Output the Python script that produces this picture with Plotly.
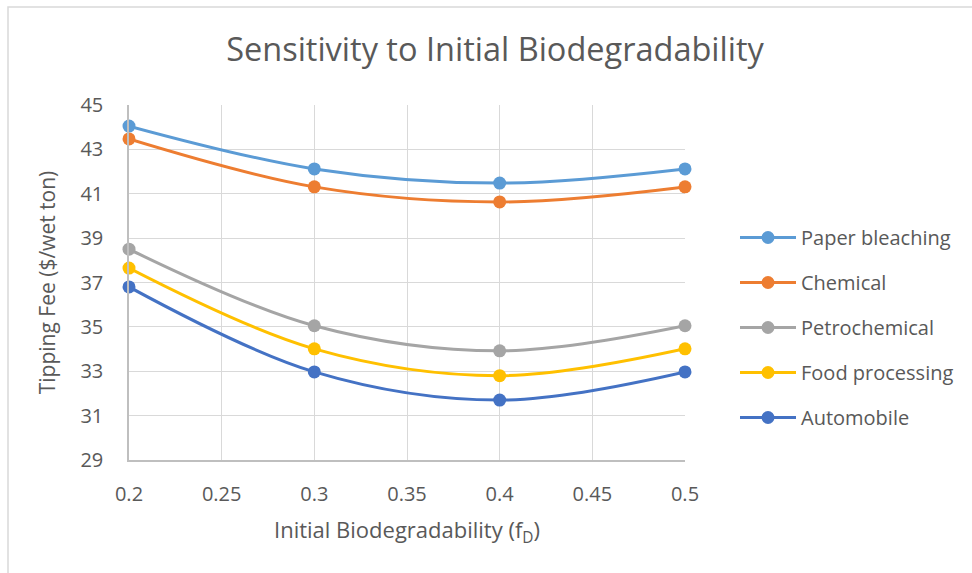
import plotly.graph_objects as go

x_vals = [0.2, 0.3, 0.4, 0.5]
paper_bleaching = [44.05, 42.12, 41.48, 42.12]
chemical = [43.47, 41.31, 40.63, 41.31]
petrochemical = [38.5, 35.05, 33.92, 35.05]
food_processing = [37.65, 34.01, 32.8, 34.01]
automobile = [36.8, 32.97, 31.7, 32.97]

series_names = ["Paper bleaching", "Chemical", "Petrochemical", "Food processing", "Automobile"]
series_values = [paper_bleaching, chemical, petrochemical, food_processing, automobile]
colors = ["#5B9BD5", "#ED7D31", "#A5A5A5", "#FFC000", "#4472C4"]

x_ticks = [0.2, 0.25, 0.3, 0.35, 0.4, 0.45, 0.5]
x_tick_labels = ["0.2", "0.25", "0.3", "0.35", "0.4", "0.45", "0.5"]
y_ticks = [29, 31, 33, 35, 37, 39, 41, 43, 45]

FONT = "Open Sans"
TXT = "#595959"

fig = go.Figure()
for name, vals, col in zip(series_names, series_values, colors):
    fig.add_trace(go.Scatter(
        x=x_vals, y=vals, name=name, mode="lines+markers",
        line=dict(color=col, width=3, shape="spline", smoothing=1),
        marker=dict(color=col, size=13),
        legendgroup=name,
    ))

W, H = 972, 573
l, r, t, b = 129, 287, 105, 113
pw, ph = W - l - r, H - t - b

def px_x(p):
    return (p - l) / pw

def px_y(p):
    return 1 - (p - t) / ph

fig.add_shape(type="rect", xref="paper", yref="paper",
              x0=px_x(8), x1=px_x(1100), y0=px_y(700), y1=px_y(7),
              line=dict(color="#d9d9d9", width=1.5), fillcolor="rgba(0,0,0,0)", layer="below")

fig.update_layout(
    width=W, height=H,
    margin=dict(l=l, r=r, t=t, b=b),
    paper_bgcolor="white", plot_bgcolor="white",
    font=dict(family=FONT, color=TXT, size=20),
    title=dict(text="Sensitivity to Initial Biodegradability", x=495 / W, xref="container", xanchor="center",
               y=1 - 50 / H, yanchor="middle", font=dict(size=32.5, color=TXT, family=FONT)),
    showlegend=True,
    legend=dict(x=px_x(735), y=px_y(218), xanchor="left", yanchor="top",
                font=dict(size=20, color=TXT, family=FONT), tracegroupgap=16,
                itemwidth=56, bgcolor="rgba(0,0,0,0)"),
    xaxis=dict(range=[0.2, 0.5], tickvals=x_ticks, ticktext=x_tick_labels,
               showgrid=True, gridcolor="#d9d9d9", gridwidth=1,
               showline=True, linecolor="#bfbfbf", linewidth=1.5,
               zeroline=False, ticks="outside", ticklen=15, tickcolor="rgba(0,0,0,0)",
               tickfont=dict(size=20, color=TXT),
               title=dict(text="Initial Biodegradability (f<sub>D</sub>)", font=dict(size=22, color=TXT), standoff=17)),
    yaxis=dict(range=[29, 45], tickvals=y_ticks,
               showgrid=True, gridcolor="#d9d9d9", gridwidth=1,
               showline=True, linecolor="#bfbfbf", linewidth=1.5,
               zeroline=False, ticks="outside", ticklen=20, tickcolor="rgba(0,0,0,0)",
               tickfont=dict(size=20, color=TXT),
               title=dict(text="Tipping Fee ($/wet ton)", font=dict(size=21, color=TXT), standoff=19)),
)
fig.update_traces(cliponaxis=False)

fig.write_html("out.html")
